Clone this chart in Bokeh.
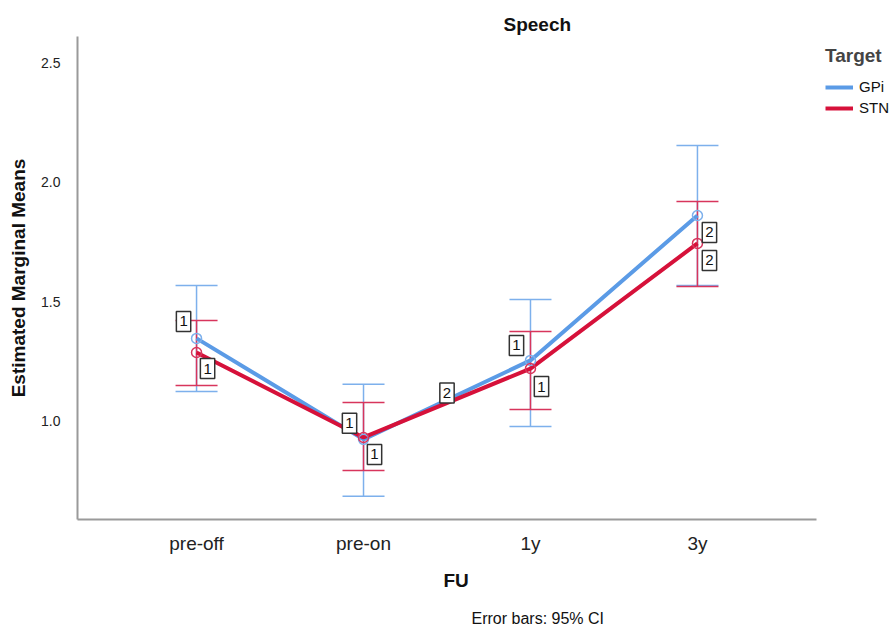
from bokeh.plotting import figure
from bokeh.models import (Range1d, FixedTicker, Label, Whisker, TeeHead, ColumnDataSource,
                          Legend, LegendItem, NumeralTickFormatter, Title)
from bokeh.embed import file_html
from bokeh.resources import INLINE

categories = ["pre-off", "pre-on", "1y", "3y"]
gpi_mean = [1.347, 0.925, 1.255, 1.861]
gpi_upper = [1.568, 1.155, 1.510, 2.153]
gpi_lower = [1.125, 0.687, 0.979, 1.568]
stn_mean = [1.288, 0.933, 1.221, 1.744]
stn_upper = [1.422, 1.079, 1.376, 1.919]
stn_lower = [1.150, 0.795, 1.050, 1.564]
y_ticks = [1.0, 1.5, 2.0, 2.5]

gpi_marks = ["1", "1", "1", "2"]
stn_marks = ["1", "1", "1", "2"]
mid_mark = "2"

FONT = "Liberation Sans"
BLUE = "#5B9BE6"
RED = "#D6113A"
BLUE_EB = "#7DB0EC"
RED_EB = "#D8355C"

x = list(range(len(categories)))

# axis spans -0.713 .. 3.713 over 739 px; frame is extended right (to 816 px) to hold the legend
AX_START, AX_END = -0.713, 3.713
AX_PX, FRAME_PX = 739, 816
x_end = AX_START + (AX_END - AX_START) * FRAME_PX / AX_PX

p = figure(width=893, height=632, output_backend="svg", toolbar_location=None,
           x_range=Range1d(AX_START, x_end), y_range=Range1d(0.590, 2.609),
           min_border_left=77, min_border_right=0, min_border_top=36, min_border_bottom=113)
p.outline_line_color = None
p.xgrid.visible = False
p.ygrid.visible = False
p.background_fill_color = "white"
p.border_fill_color = "white"

def style_axis(ax):
    ax.axis_line_color = "#9a9a9a"
    ax.axis_line_width = 2
    ax.major_tick_line_color = None
    ax.minor_tick_line_color = None
    ax.major_tick_out = 0
    ax.major_tick_in = 0
    ax.major_label_text_font = FONT
    ax.major_label_text_color = "#222222"
    ax.axis_label_text_font = FONT
    ax.axis_label_text_font_style = "bold"
    ax.axis_label_text_color = "#111111"

xa = p.xaxis[0]
style_axis(xa)
xa.bounds = (AX_START, AX_END)
xa.ticker = FixedTicker(ticks=x)
xa.major_label_overrides = {i: c for i, c in enumerate(categories)}
xa.major_label_text_font_size = "19px"
xa.major_label_standoff = 13

ya = p.yaxis[0]
style_axis(ya)
ya.ticker = FixedTicker(ticks=y_ticks)
ya.formatter = NumeralTickFormatter(format="0.0")
ya.major_label_text_font_size = "14px"
ya.major_label_standoff = 17
ya.axis_label = "Estimated Marginal Means"
ya.axis_label_text_font_size = "19px"
ya.axis_label_standoff = 9

gsrc = ColumnDataSource(dict(x=x, m=gpi_mean, u=gpi_upper, l=gpi_lower))
ssrc = ColumnDataSource(dict(x=x, m=stn_mean, u=stn_upper, l=stn_lower))

for src, col in ((gsrc, BLUE_EB), (ssrc, RED_EB)):
    w = Whisker(source=src, base="x", upper="u", lower="l", dimension="height",
                line_color=col, line_width=1.5,
                upper_head=TeeHead(size=42, line_color=col, line_width=1.5),
                lower_head=TeeHead(size=42, line_color=col, line_width=1.5))
    p.add_layout(w)

gl = p.line("x", "m", source=gsrc, line_color=BLUE, line_width=4)
sl = p.line("x", "m", source=ssrc, line_color=RED, line_width=4)
p.scatter("x", "m", source=gsrc, size=10, fill_color=None, line_color=BLUE_EB, line_width=1.5)
p.scatter("x", "m", source=ssrc, size=10, fill_color=None, line_color=RED_EB, line_width=1.5)

def box(xv, yv, txt, dx, dy):
    p.add_layout(Label(x=xv, y=yv, text=txt, x_offset=dx, y_offset=dy,
                       text_align="center", text_baseline="middle",
                       text_font=FONT, text_font_size="15px", text_color="#111111",
                       background_fill_color="white", border_line_color="#333333",
                       border_line_width=1.5,
                       padding=dict(left=3, right=3, top=5, bottom=5)))

gpi_off = [(-13, 17), (-14, 16), (-14, 15), (12, -17)]
stn_off = [(11, -16), (11, -17), (11, -18), (12, -17)]
for i in x:
    box(x[i], gpi_mean[i], gpi_marks[i], *gpi_off[i])
    box(x[i], stn_mean[i], stn_marks[i], *stn_off[i])
box((x[1] + x[2]) / 2, (stn_mean[1] + stn_mean[2]) / 2, mid_mark, 0, 10)

legend = Legend(items=[LegendItem(label="GPi", renderers=[gl]),
                       LegendItem(label="STN", renderers=[sl])],
                location=(748, 403), title="Target",
                title_text_font=FONT, title_text_font_style="bold", title_text_font_size="19px",
                title_standoff=11,
                label_text_font=FONT, label_text_font_size="15px", label_text_color="#111111",
                glyph_width=28, glyph_height=16, label_height=16, label_standoff=6,
                spacing=4, padding=0, margin=0, border_line_color=None,
                background_fill_alpha=0)
p.add_layout(legend, "center")

p.add_layout(Title(text="Speech", align="left", offset=426, standoff=3,
                   text_font=FONT, text_font_style="bold", text_font_size="19px",
                   text_color="#111111"), "above")
p.add_layout(Title(text="FU", align="left", offset=366, standoff=22,
                   text_font=FONT, text_font_style="bold", text_font_size="19px",
                   text_color="#111111"), "below")
p.add_layout(Title(text="Error bars: 95% CI", align="left", offset=394, standoff=12,
                   text_font=FONT, text_font_style="normal", text_font_size="16px",
                   text_color="#111111"), "below")

open("out.html", "w").write(file_html(p, INLINE))
